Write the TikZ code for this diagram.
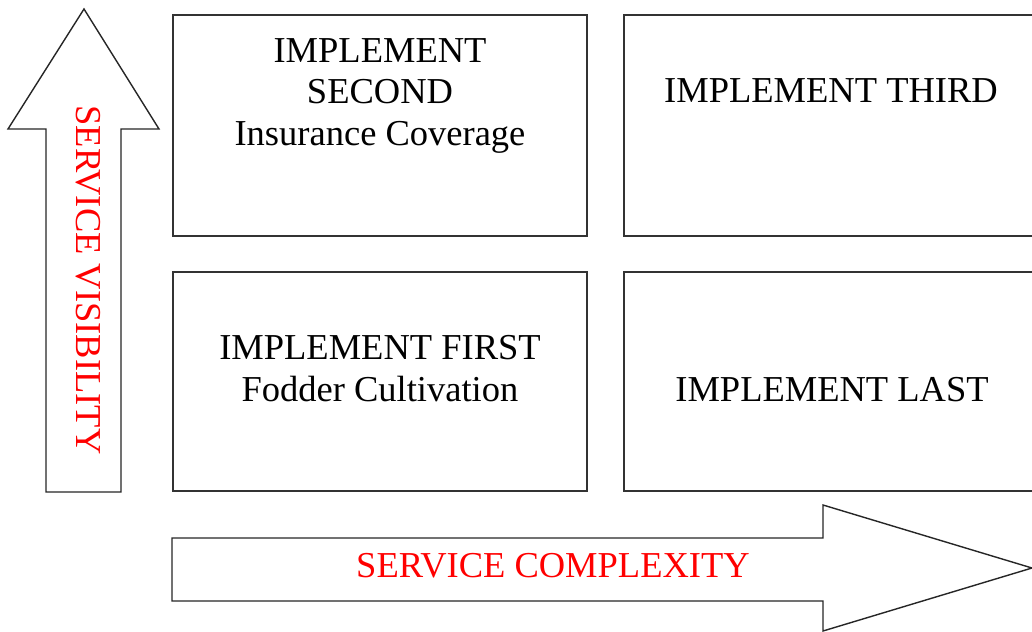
\documentclass[tikz,border=0pt]{standalone}
\usepackage{fontspec}
\setmainfont{Liberation Serif}
\begin{document}
\begin{tikzpicture}[x=1pt, y=-1pt,
    quad/.style={draw=black!80, line width=1.2pt, minimum width=414pt, minimum height=221pt},
    txt/.style={align=center, inner sep=0pt, font=\fontsize{36.5}{41.5}\selectfont},
    axis/.style={draw=black!85, line width=1.4pt, fill=white}]
      \useasboundingbox (0,0) rectangle (1032,631);
      \draw[axis] (84,9) -- (159,129) -- (121,129) -- (121,492) -- (46,492) -- (46,129) -- (8,129) -- cycle;
      \draw[axis] (172,538) -- (823,538) -- (823,505) -- (1032,568) -- (823,631) -- (823,601) -- (172,601) -- cycle;
      \node[quad] (second) at (380,125.5) {};
      \node[quad, minimum width=412pt] (third) at (830,125.5) {};
      \node[quad, minimum height=219pt] (first) at (380,381.5) {};
      \node[quad, minimum width=412pt, minimum height=219pt] (last) at (830,381.5) {};
      \node[txt] (secondtxt) at (380,95.5) {IMPLEMENT\\SECOND\\Insurance Coverage};
      \node[txt] (thirdtxt) at (831,91) {IMPLEMENT THIRD};
      \node[txt] (firsttxt) at (380,368.5) {IMPLEMENT FIRST\\Fodder Cultivation};
      \node[txt] (lasttxt) at (832,389.5) {IMPLEMENT LAST};
      \node[txt, text=red] (complexity) at (553,566) {SERVICE COMPLEXITY};
      \node[txt, text=red, rotate=-90] (visibility) at (88,280) {SERVICE VISIBILITY};
    \end{tikzpicture}
\end{document}
